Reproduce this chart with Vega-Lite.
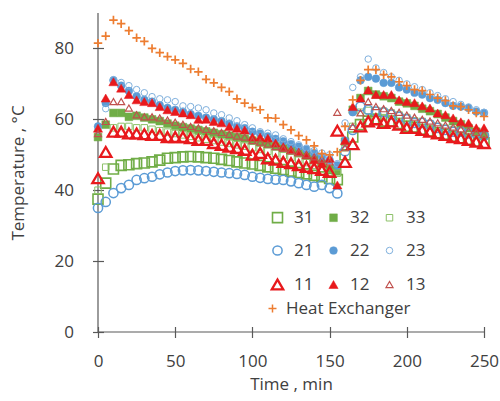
{
"$schema": "https://vega.github.io/schema/vega-lite/v6.json",
"width": 386, "height": 319,
"autosize": "none",
"padding": {"left": 98, "top": 13, "right": 16, "bottom": 69},
"background": "white",
"config": {
 "view": {"stroke": null},
 "font": "Open Sans",
 "axis": {"labelFont": "Open Sans", "titleFont": "Open Sans", "labelColor": "#404040", "titleColor": "#404040", "titleFontWeight": "normal", "labelFontSize": 17, "titleFontSize": 17, "tickColor": "#595959", "tickWidth": 1.2, "grid": false},
 "legend": {"labelFont": "Open Sans", "labelFontSize": 17, "labelColor": "#404040"}
},
"datasets": {"pts": [
{"t":0,"s":"31","v":37.5},{"t":5,"s":"31","v":42},{"t":10,"s":"31","v":46},{"t":15,"s":"31","v":47},{"t":20,"s":"31","v":47.2},{"t":25,"s":"31","v":47.5},{"t":30,"s":"31","v":47.7},{"t":35,"s":"31","v":48},{"t":40,"s":"31","v":48.5},{"t":45,"s":"31","v":49},{"t":50,"s":"31","v":49.2},{"t":55,"s":"31","v":49.4},{"t":60,"s":"31","v":49.5},{"t":65,"s":"31","v":49.4},{"t":70,"s":"31","v":49.2},{"t":75,"s":"31","v":49},{"t":80,"s":"31","v":48.7},{"t":85,"s":"31","v":48.4},{"t":90,"s":"31","v":48},{"t":95,"s":"31","v":47.7},{"t":100,"s":"31","v":47.4},{"t":105,"s":"31","v":47},{"t":110,"s":"31","v":46.6},{"t":115,"s":"31","v":46.2},{"t":120,"s":"31","v":45.8},{"t":125,"s":"31","v":45.4},{"t":130,"s":"31","v":45},{"t":135,"s":"31","v":44.6},{"t":140,"s":"31","v":44.2},{"t":145,"s":"31","v":43.8},{"t":150,"s":"31","v":43.3},{"t":155,"s":"31","v":43},{"t":160,"s":"31","v":50},{"t":165,"s":"31","v":55},{"t":170,"s":"31","v":58.5},{"t":175,"s":"31","v":59.5},{"t":180,"s":"31","v":60},{"t":185,"s":"31","v":59.5},{"t":190,"s":"31","v":59.5},{"t":195,"s":"31","v":58.8},{"t":200,"s":"31","v":58},{"t":205,"s":"31","v":57.8},{"t":210,"s":"31","v":57.2},{"t":215,"s":"31","v":56.7},{"t":220,"s":"31","v":56.2},{"t":225,"s":"31","v":55.8},{"t":230,"s":"31","v":55.2},{"t":235,"s":"31","v":54.8},{"t":240,"s":"31","v":54.3},{"t":245,"s":"31","v":53.8},{"t":250,"s":"31","v":53.4},
{"t":0,"s":"32","v":55},{"t":5,"s":"32","v":58.5},{"t":10,"s":"32","v":61.8},{"t":15,"s":"32","v":61.8},{"t":20,"s":"32","v":60.7},{"t":25,"s":"32","v":61},{"t":30,"s":"32","v":60.5},{"t":35,"s":"32","v":60},{"t":40,"s":"32","v":59.5},{"t":45,"s":"32","v":58.8},{"t":50,"s":"32","v":58.2},{"t":55,"s":"32","v":57.8},{"t":60,"s":"32","v":57.4},{"t":65,"s":"32","v":57},{"t":70,"s":"32","v":56.6},{"t":75,"s":"32","v":56.2},{"t":80,"s":"32","v":55.8},{"t":85,"s":"32","v":55.4},{"t":90,"s":"32","v":55},{"t":95,"s":"32","v":54.6},{"t":100,"s":"32","v":54},{"t":105,"s":"32","v":53.5},{"t":110,"s":"32","v":53},{"t":115,"s":"32","v":52.4},{"t":120,"s":"32","v":51.8},{"t":125,"s":"32","v":51.2},{"t":130,"s":"32","v":50.5},{"t":135,"s":"32","v":49.8},{"t":140,"s":"32","v":48.8},{"t":145,"s":"32","v":47.5},{"t":150,"s":"32","v":46},{"t":155,"s":"32","v":45.5},{"t":160,"s":"32","v":53.7},{"t":165,"s":"32","v":62.7},{"t":170,"s":"32","v":66},{"t":175,"s":"32","v":68},{"t":180,"s":"32","v":67},{"t":185,"s":"32","v":66.5},{"t":190,"s":"32","v":66},{"t":195,"s":"32","v":65},{"t":200,"s":"32","v":64.5},{"t":205,"s":"32","v":63.8},{"t":210,"s":"32","v":63},{"t":215,"s":"32","v":62.3},{"t":220,"s":"32","v":61.5},{"t":225,"s":"32","v":60.5},{"t":230,"s":"32","v":59.5},{"t":235,"s":"32","v":58.6},{"t":240,"s":"32","v":57.5},{"t":245,"s":"32","v":56.5},{"t":250,"s":"32","v":55.5},
{"t":0,"s":"33","v":40},{"t":5,"s":"33","v":46.5},{"t":10,"s":"33","v":57.6},{"t":15,"s":"33","v":58},{"t":20,"s":"33","v":58},{"t":25,"s":"33","v":57.6},{"t":30,"s":"33","v":57.6},{"t":35,"s":"33","v":57.2},{"t":40,"s":"33","v":56.8},{"t":45,"s":"33","v":56.4},{"t":50,"s":"33","v":56},{"t":55,"s":"33","v":55.6},{"t":60,"s":"33","v":55.2},{"t":65,"s":"33","v":54.8},{"t":70,"s":"33","v":54.4},{"t":75,"s":"33","v":54},{"t":80,"s":"33","v":53.6},{"t":85,"s":"33","v":53.2},{"t":90,"s":"33","v":52.8},{"t":95,"s":"33","v":52.4},{"t":100,"s":"33","v":52},{"t":105,"s":"33","v":51.5},{"t":110,"s":"33","v":51},{"t":115,"s":"33","v":50.4},{"t":120,"s":"33","v":49.8},{"t":125,"s":"33","v":49.2},{"t":130,"s":"33","v":48.5},{"t":135,"s":"33","v":47.8},{"t":140,"s":"33","v":47},{"t":145,"s":"33","v":46},{"t":150,"s":"33","v":45},{"t":155,"s":"33","v":44.8},{"t":160,"s":"33","v":52},{"t":165,"s":"33","v":58},{"t":170,"s":"33","v":62},{"t":175,"s":"33","v":62.5},{"t":180,"s":"33","v":62.5},{"t":185,"s":"33","v":62.3},{"t":190,"s":"33","v":61.8},{"t":195,"s":"33","v":61.2},{"t":200,"s":"33","v":60.5},{"t":205,"s":"33","v":59.6},{"t":210,"s":"33","v":59.4},{"t":215,"s":"33","v":58.8},{"t":220,"s":"33","v":58},{"t":225,"s":"33","v":57.5},{"t":230,"s":"33","v":57},{"t":235,"s":"33","v":56.8},{"t":240,"s":"33","v":56.3},{"t":245,"s":"33","v":56},{"t":250,"s":"33","v":55.8},
{"t":0,"s":"21","v":35},{"t":5,"s":"21","v":36.7},{"t":10,"s":"21","v":39.2},{"t":15,"s":"21","v":40.6},{"t":20,"s":"21","v":41.5},{"t":25,"s":"21","v":42.9},{"t":30,"s":"21","v":43.4},{"t":35,"s":"21","v":43.8},{"t":40,"s":"21","v":44.5},{"t":45,"s":"21","v":45},{"t":50,"s":"21","v":45.4},{"t":55,"s":"21","v":45.6},{"t":60,"s":"21","v":45.7},{"t":65,"s":"21","v":45.6},{"t":70,"s":"21","v":45.4},{"t":75,"s":"21","v":45.2},{"t":80,"s":"21","v":45},{"t":85,"s":"21","v":44.8},{"t":90,"s":"21","v":44.6},{"t":95,"s":"21","v":44.3},{"t":100,"s":"21","v":43.8},{"t":105,"s":"21","v":43.5},{"t":110,"s":"21","v":43.2},{"t":115,"s":"21","v":43},{"t":120,"s":"21","v":42.9},{"t":125,"s":"21","v":42.5},{"t":130,"s":"21","v":42},{"t":135,"s":"21","v":41.5},{"t":140,"s":"21","v":41},{"t":145,"s":"21","v":41.5},{"t":150,"s":"21","v":40.6},{"t":155,"s":"21","v":39.1},{"t":160,"s":"21","v":51},{"t":165,"s":"21","v":57},{"t":170,"s":"21","v":63.6},{"t":175,"s":"21","v":62.7},{"t":180,"s":"21","v":62.2},{"t":185,"s":"21","v":62},{"t":190,"s":"21","v":61.3},{"t":195,"s":"21","v":60.7},{"t":200,"s":"21","v":60},{"t":205,"s":"21","v":59},{"t":210,"s":"21","v":59},{"t":215,"s":"21","v":58.5},{"t":220,"s":"21","v":57.6},{"t":225,"s":"21","v":57},{"t":230,"s":"21","v":56.5},{"t":235,"s":"21","v":56.5},{"t":240,"s":"21","v":56},{"t":245,"s":"21","v":56},{"t":250,"s":"21","v":55.4},
{"t":0,"s":"22","v":58},{"t":5,"s":"22","v":64.6},{"t":10,"s":"22","v":71},{"t":15,"s":"22","v":69.5},{"t":20,"s":"22","v":68},{"t":25,"s":"22","v":66.5},{"t":30,"s":"22","v":65.5},{"t":35,"s":"22","v":65},{"t":40,"s":"22","v":64},{"t":45,"s":"22","v":63.2},{"t":50,"s":"22","v":62.7},{"t":55,"s":"22","v":62.2},{"t":60,"s":"22","v":61.5},{"t":65,"s":"22","v":61},{"t":70,"s":"22","v":60.5},{"t":75,"s":"22","v":60},{"t":80,"s":"22","v":59.5},{"t":85,"s":"22","v":58.8},{"t":90,"s":"22","v":58},{"t":95,"s":"22","v":57.5},{"t":100,"s":"22","v":56.5},{"t":105,"s":"22","v":56},{"t":110,"s":"22","v":55.2},{"t":115,"s":"22","v":54.5},{"t":120,"s":"22","v":53.8},{"t":125,"s":"22","v":53},{"t":130,"s":"22","v":52.3},{"t":135,"s":"22","v":51.5},{"t":140,"s":"22","v":50.5},{"t":145,"s":"22","v":49.5},{"t":150,"s":"22","v":48.5},{"t":155,"s":"22","v":47},{"t":160,"s":"22","v":54},{"t":165,"s":"22","v":62},{"t":170,"s":"22","v":71},{"t":175,"s":"22","v":72},{"t":180,"s":"22","v":71.5},{"t":185,"s":"22","v":70.3},{"t":190,"s":"22","v":70.3},{"t":195,"s":"22","v":69},{"t":200,"s":"22","v":68.4},{"t":205,"s":"22","v":67.5},{"t":210,"s":"22","v":67},{"t":215,"s":"22","v":66},{"t":220,"s":"22","v":65.5},{"t":225,"s":"22","v":64.6},{"t":230,"s":"22","v":63.8},{"t":235,"s":"22","v":63.6},{"t":240,"s":"22","v":63.2},{"t":245,"s":"22","v":62.2},{"t":250,"s":"22","v":61.8},
{"t":0,"s":"23","v":57},{"t":5,"s":"23","v":63},{"t":10,"s":"23","v":71.2},{"t":15,"s":"23","v":70.4},{"t":20,"s":"23","v":69.5},{"t":25,"s":"23","v":68.4},{"t":30,"s":"23","v":67.5},{"t":35,"s":"23","v":66.4},{"t":40,"s":"23","v":65.8},{"t":45,"s":"23","v":65.5},{"t":50,"s":"23","v":65},{"t":55,"s":"23","v":63.8},{"t":60,"s":"23","v":63.6},{"t":65,"s":"23","v":63.2},{"t":70,"s":"23","v":62.7},{"t":75,"s":"23","v":61.8},{"t":80,"s":"23","v":61.3},{"t":85,"s":"23","v":60.4},{"t":90,"s":"23","v":59.6},{"t":95,"s":"23","v":58.5},{"t":100,"s":"23","v":57.6},{"t":105,"s":"23","v":56.5},{"t":110,"s":"23","v":56.1},{"t":115,"s":"23","v":55.6},{"t":120,"s":"23","v":54.5},{"t":125,"s":"23","v":53.7},{"t":130,"s":"23","v":52.8},{"t":135,"s":"23","v":51.9},{"t":140,"s":"23","v":51.2},{"t":145,"s":"23","v":50.5},{"t":150,"s":"23","v":50},{"t":155,"s":"23","v":47.5},{"t":160,"s":"23","v":59},{"t":165,"s":"23","v":69},{"t":170,"s":"23","v":72},{"t":175,"s":"23","v":77},{"t":180,"s":"23","v":74.5},{"t":185,"s":"23","v":73.2},{"t":190,"s":"23","v":72},{"t":195,"s":"23","v":71},{"t":200,"s":"23","v":70},{"t":205,"s":"23","v":69.2},{"t":210,"s":"23","v":68.4},{"t":215,"s":"23","v":67.5},{"t":220,"s":"23","v":66.7},{"t":225,"s":"23","v":65.8},{"t":230,"s":"23","v":65},{"t":235,"s":"23","v":64.2},{"t":240,"s":"23","v":63.5},{"t":245,"s":"23","v":62.7},{"t":250,"s":"23","v":62},
{"t":0,"s":"11","v":43.4},{"t":5,"s":"11","v":50.8},{"t":10,"s":"11","v":56.5},{"t":15,"s":"11","v":56.5},{"t":20,"s":"11","v":56},{"t":25,"s":"11","v":56},{"t":30,"s":"11","v":55.8},{"t":35,"s":"11","v":55.6},{"t":40,"s":"11","v":55.6},{"t":45,"s":"11","v":55},{"t":50,"s":"11","v":55},{"t":55,"s":"11","v":55},{"t":60,"s":"11","v":54.7},{"t":65,"s":"11","v":54.2},{"t":70,"s":"11","v":54.2},{"t":75,"s":"11","v":53.3},{"t":80,"s":"11","v":52.8},{"t":85,"s":"11","v":52.3},{"t":90,"s":"11","v":51.9},{"t":95,"s":"11","v":51.4},{"t":100,"s":"11","v":50},{"t":105,"s":"11","v":50.5},{"t":110,"s":"11","v":49},{"t":115,"s":"11","v":48.6},{"t":120,"s":"11","v":48},{"t":125,"s":"11","v":47.6},{"t":130,"s":"11","v":47.1},{"t":135,"s":"11","v":46.6},{"t":140,"s":"11","v":46.2},{"t":145,"s":"11","v":45.7},{"t":150,"s":"11","v":45.2},{"t":155,"s":"11","v":56.8},{"t":160,"s":"11","v":48},{"t":165,"s":"11","v":53},{"t":170,"s":"11","v":58},{"t":175,"s":"11","v":59.4},{"t":180,"s":"11","v":60},{"t":185,"s":"11","v":59},{"t":190,"s":"11","v":59.4},{"t":195,"s":"11","v":58.5},{"t":200,"s":"11","v":57.6},{"t":205,"s":"11","v":57.6},{"t":210,"s":"11","v":57},{"t":215,"s":"11","v":56.5},{"t":220,"s":"11","v":56},{"t":225,"s":"11","v":55.6},{"t":230,"s":"11","v":55},{"t":235,"s":"11","v":54.7},{"t":240,"s":"11","v":54.2},{"t":245,"s":"11","v":53.7},{"t":250,"s":"11","v":53.3},
{"t":0,"s":"12","v":57.5},{"t":5,"s":"12","v":66},{"t":10,"s":"12","v":70.6},{"t":15,"s":"12","v":68.8},{"t":20,"s":"12","v":67},{"t":25,"s":"12","v":65.5},{"t":30,"s":"12","v":65},{"t":35,"s":"12","v":64.7},{"t":40,"s":"12","v":63.6},{"t":45,"s":"12","v":62.7},{"t":50,"s":"12","v":62.2},{"t":55,"s":"12","v":61.8},{"t":60,"s":"12","v":61.3},{"t":65,"s":"12","v":60},{"t":70,"s":"12","v":60},{"t":75,"s":"12","v":59.4},{"t":80,"s":"12","v":59},{"t":85,"s":"12","v":58},{"t":90,"s":"12","v":57.5},{"t":95,"s":"12","v":57},{"t":100,"s":"12","v":55},{"t":105,"s":"12","v":55},{"t":110,"s":"12","v":54.7},{"t":115,"s":"12","v":53.3},{"t":120,"s":"12","v":52.3},{"t":125,"s":"12","v":51.4},{"t":130,"s":"12","v":50.8},{"t":135,"s":"12","v":50},{"t":140,"s":"12","v":48.6},{"t":145,"s":"12","v":47.6},{"t":150,"s":"12","v":49},{"t":155,"s":"12","v":41.5},{"t":160,"s":"12","v":54},{"t":165,"s":"12","v":63.6},{"t":170,"s":"12","v":66},{"t":175,"s":"12","v":68.3},{"t":180,"s":"12","v":67},{"t":185,"s":"12","v":67},{"t":190,"s":"12","v":67},{"t":195,"s":"12","v":65.5},{"t":200,"s":"12","v":65},{"t":205,"s":"12","v":64.7},{"t":210,"s":"12","v":63.8},{"t":215,"s":"12","v":63.2},{"t":220,"s":"12","v":61.8},{"t":225,"s":"12","v":61.3},{"t":230,"s":"12","v":60.4},{"t":235,"s":"12","v":59.3},{"t":240,"s":"12","v":59},{"t":245,"s":"12","v":57.6},{"t":250,"s":"12","v":57.6},
{"t":0,"s":"13","v":56},{"t":5,"s":"13","v":59.4},{"t":10,"s":"13","v":65},{"t":15,"s":"13","v":65},{"t":20,"s":"13","v":63.2},{"t":25,"s":"13","v":61.3},{"t":30,"s":"13","v":60.7},{"t":35,"s":"13","v":60.7},{"t":40,"s":"13","v":60.4},{"t":45,"s":"13","v":59.8},{"t":50,"s":"13","v":59.2},{"t":55,"s":"13","v":58.6},{"t":60,"s":"13","v":58},{"t":65,"s":"13","v":57.6},{"t":70,"s":"13","v":57.2},{"t":75,"s":"13","v":56.8},{"t":80,"s":"13","v":56.3},{"t":85,"s":"13","v":55.8},{"t":90,"s":"13","v":55.3},{"t":95,"s":"13","v":55},{"t":100,"s":"13","v":54},{"t":105,"s":"13","v":53.6},{"t":110,"s":"13","v":53},{"t":115,"s":"13","v":52.3},{"t":120,"s":"13","v":51.8},{"t":125,"s":"13","v":51.2},{"t":130,"s":"13","v":50.6},{"t":135,"s":"13","v":50},{"t":140,"s":"13","v":49.4},{"t":145,"s":"13","v":48.8},{"t":150,"s":"13","v":48},{"t":155,"s":"13","v":62},{"t":160,"s":"13","v":52},{"t":165,"s":"13","v":58},{"t":170,"s":"13","v":61.8},{"t":175,"s":"13","v":65},{"t":180,"s":"13","v":63.6},{"t":185,"s":"13","v":63},{"t":190,"s":"13","v":62.5},{"t":195,"s":"13","v":62},{"t":200,"s":"13","v":61.2},{"t":205,"s":"13","v":60.6},{"t":210,"s":"13","v":60},{"t":215,"s":"13","v":59.5},{"t":220,"s":"13","v":59},{"t":225,"s":"13","v":58.4},{"t":230,"s":"13","v":57.8},{"t":235,"s":"13","v":57.3},{"t":240,"s":"13","v":56.8},{"t":245,"s":"13","v":56.3},{"t":250,"s":"13","v":55.8},
{"t":0,"s":"Heat Exchanger","v":81.5},{"t":5,"s":"Heat Exchanger","v":83.5},{"t":10,"s":"Heat Exchanger","v":88},{"t":15,"s":"Heat Exchanger","v":87},{"t":20,"s":"Heat Exchanger","v":85},{"t":25,"s":"Heat Exchanger","v":83},{"t":30,"s":"Heat Exchanger","v":82},{"t":35,"s":"Heat Exchanger","v":80},{"t":40,"s":"Heat Exchanger","v":78.8},{"t":45,"s":"Heat Exchanger","v":77.7},{"t":50,"s":"Heat Exchanger","v":76.8},{"t":55,"s":"Heat Exchanger","v":75.8},{"t":60,"s":"Heat Exchanger","v":74.2},{"t":65,"s":"Heat Exchanger","v":73.4},{"t":70,"s":"Heat Exchanger","v":71.3},{"t":75,"s":"Heat Exchanger","v":70.3},{"t":80,"s":"Heat Exchanger","v":69},{"t":85,"s":"Heat Exchanger","v":67.8},{"t":90,"s":"Heat Exchanger","v":65.8},{"t":95,"s":"Heat Exchanger","v":64.6},{"t":100,"s":"Heat Exchanger","v":63.3},{"t":105,"s":"Heat Exchanger","v":62.7},{"t":110,"s":"Heat Exchanger","v":60.4},{"t":115,"s":"Heat Exchanger","v":60.3},{"t":120,"s":"Heat Exchanger","v":58.5},{"t":125,"s":"Heat Exchanger","v":57},{"t":130,"s":"Heat Exchanger","v":55.4},{"t":135,"s":"Heat Exchanger","v":54.2},{"t":140,"s":"Heat Exchanger","v":52.5},{"t":145,"s":"Heat Exchanger","v":50.3},{"t":150,"s":"Heat Exchanger","v":50},{"t":155,"s":"Heat Exchanger","v":50.8},{"t":160,"s":"Heat Exchanger","v":58},{"t":165,"s":"Heat Exchanger","v":65.5},{"t":170,"s":"Heat Exchanger","v":71},{"t":175,"s":"Heat Exchanger","v":74},{"t":180,"s":"Heat Exchanger","v":74},{"t":185,"s":"Heat Exchanger","v":72.6},{"t":190,"s":"Heat Exchanger","v":72},{"t":195,"s":"Heat Exchanger","v":70.6},{"t":200,"s":"Heat Exchanger","v":69.5},{"t":205,"s":"Heat Exchanger","v":68.4},{"t":210,"s":"Heat Exchanger","v":68.1},{"t":215,"s":"Heat Exchanger","v":67},{"t":220,"s":"Heat Exchanger","v":66},{"t":225,"s":"Heat Exchanger","v":65.3},{"t":230,"s":"Heat Exchanger","v":63.8},{"t":235,"s":"Heat Exchanger","v":63.6},{"t":240,"s":"Heat Exchanger","v":62.7},{"t":245,"s":"Heat Exchanger","v":61.8},{"t":250,"s":"Heat Exchanger","v":60.8}
]},
"layer": [
 {"data": {"values": [{}]}, "mark": {"type": "rule", "color": "#595959", "strokeWidth": 1.2}, "encoding": {"x": {"datum": 0, "type": "quantitative"}}},
 {"data": {"values": [{}]}, "mark": {"type": "rule", "color": "#595959", "strokeWidth": 1.2}, "encoding": {"y": {"datum": 0, "type": "quantitative"}}},
 {
  "data": {"name": "pts"},
  "transform": [{"filter": "datum.s != 'Heat Exchanger'"}],
  "mark": {"type": "point", "opacity": 1},
  "encoding": {
   "x": {"field": "t", "type": "quantitative", "title": "Time , min", "scale": {"domain": [0, 250], "nice": false},
    "axis": {"values": [0,25,50,75,100,125,150,175,200,225,250], "labelExpr": "datum.value % 50 == 0 ? datum.label : ''", "domain": false, "tickSize": 11, "offset": -5.5, "labelPadding": 16, "titlePadding": 7, "labelFlush": false, "labelOverlap": false}},
   "y": {"field": "v", "type": "quantitative", "title": "Temperature , °C", "scale": {"domain": [0, 90], "nice": false},
    "axis": {"values": [0,10,20,30,40,50,60,70,80,90], "labelExpr": "datum.value % 20 == 0 ? datum.label : ''", "domain": false, "tickSize": 11, "offset": -5.5, "labelPadding": 19, "titlePadding": 27, "labelOverlap": false}},
   "shape": {"field": "s", "type": "nominal", "scale": {"domain": ["31","32","33","21","22","23","11","12","13"], "range": ["square","square","square","circle","circle","circle","triangle-up","triangle-up","triangle-up"]},
    "legend": {"title": null, "orient": "none", "legendX": 171, "legendY": 196, "direction": "horizontal", "columns": 3, "columnPadding": 11, "rowPadding": 15, "labelOffset": 8, "padding": 0}},
   "fill": {"field": "s", "type": "nominal", "scale": {"domain": ["31","32","33","21","22","23","11","12","13"], "range": ["transparent","#70AD47","transparent","transparent","#5B9BD5","transparent","transparent","#E8191C","transparent"]},
    "legend": {"title": null, "orient": "none", "legendX": 171, "legendY": 196, "direction": "horizontal", "columns": 3, "columnPadding": 11, "rowPadding": 15, "labelOffset": 8, "padding": 0}},
   "stroke": {"field": "s", "type": "nominal", "scale": {"domain": ["31","32","33","21","22","23","11","12","13"], "range": ["#70AD47","#70AD47","#8CC168","#5B9BD5","#5B9BD5","#7FB0DD","#E8191C","#E8191C","#C0504D"]},
    "legend": {"title": null, "orient": "none", "legendX": 171, "legendY": 196, "direction": "horizontal", "columns": 3, "columnPadding": 11, "rowPadding": 15, "labelOffset": 8, "padding": 0}},
   "size": {"field": "s", "type": "nominal", "scale": {"type": "ordinal", "domain": ["31","32","33","21","22","23","11","12","13"], "range": [100, 60, 42, 85, 60, 42, 130, 85, 50]},
    "legend": {"title": null, "orient": "none", "legendX": 171, "legendY": 196, "direction": "horizontal", "columns": 3, "columnPadding": 11, "rowPadding": 15, "labelOffset": 8, "padding": 0}},
   "strokeWidth": {"field": "s", "type": "nominal", "scale": {"type": "ordinal", "domain": ["31","32","33","21","22","23","11","12","13"], "range": [1.6, 0.5, 1, 1.5, 0.5, 1, 2.3, 0.5, 1.2]},
    "legend": {"title": null, "orient": "none", "legendX": 171, "legendY": 196, "direction": "horizontal", "columns": 3, "columnPadding": 11, "rowPadding": 15, "labelOffset": 8, "padding": 0}}
  }
 },
 {
  "data": {"name": "pts"},
  "transform": [{"filter": "datum.s == 'Heat Exchanger'"}],
  "mark": {"type": "point", "opacity": 1, "fill": "transparent", "strokeWidth": 1.7, "size": 72},
  "encoding": {
   "x": {"field": "t", "type": "quantitative"},
   "y": {"field": "v", "type": "quantitative"},
   "shape": {"field": "s", "type": "nominal", "scale": {"domain": ["Heat Exchanger"], "range": ["M-1,0H1M0,-1V1"]},
    "legend": {"title": null, "orient": "none", "legendX": 166, "legendY": 287, "labelOffset": 5, "padding": 0, "symbolSize": 64, "symbolStrokeColor": "#ED7D31", "symbolStrokeWidth": 1.5, "symbolType": "M-1,0H1M0,-1V1"}},
   "stroke": {"field": "s", "type": "nominal", "scale": {"domain": ["Heat Exchanger"], "range": ["#ED7D31"]},
    "legend": {"title": null, "orient": "none", "legendX": 166, "legendY": 287, "labelOffset": 5, "padding": 0, "symbolSize": 64, "symbolStrokeColor": "#ED7D31", "symbolStrokeWidth": 1.5, "symbolType": "M-1,0H1M0,-1V1"}}
  }
 }
],
"resolve": {"scale": {"shape": "independent", "fill": "independent", "stroke": "independent", "size": "independent", "strokeWidth": "independent"}}
}
